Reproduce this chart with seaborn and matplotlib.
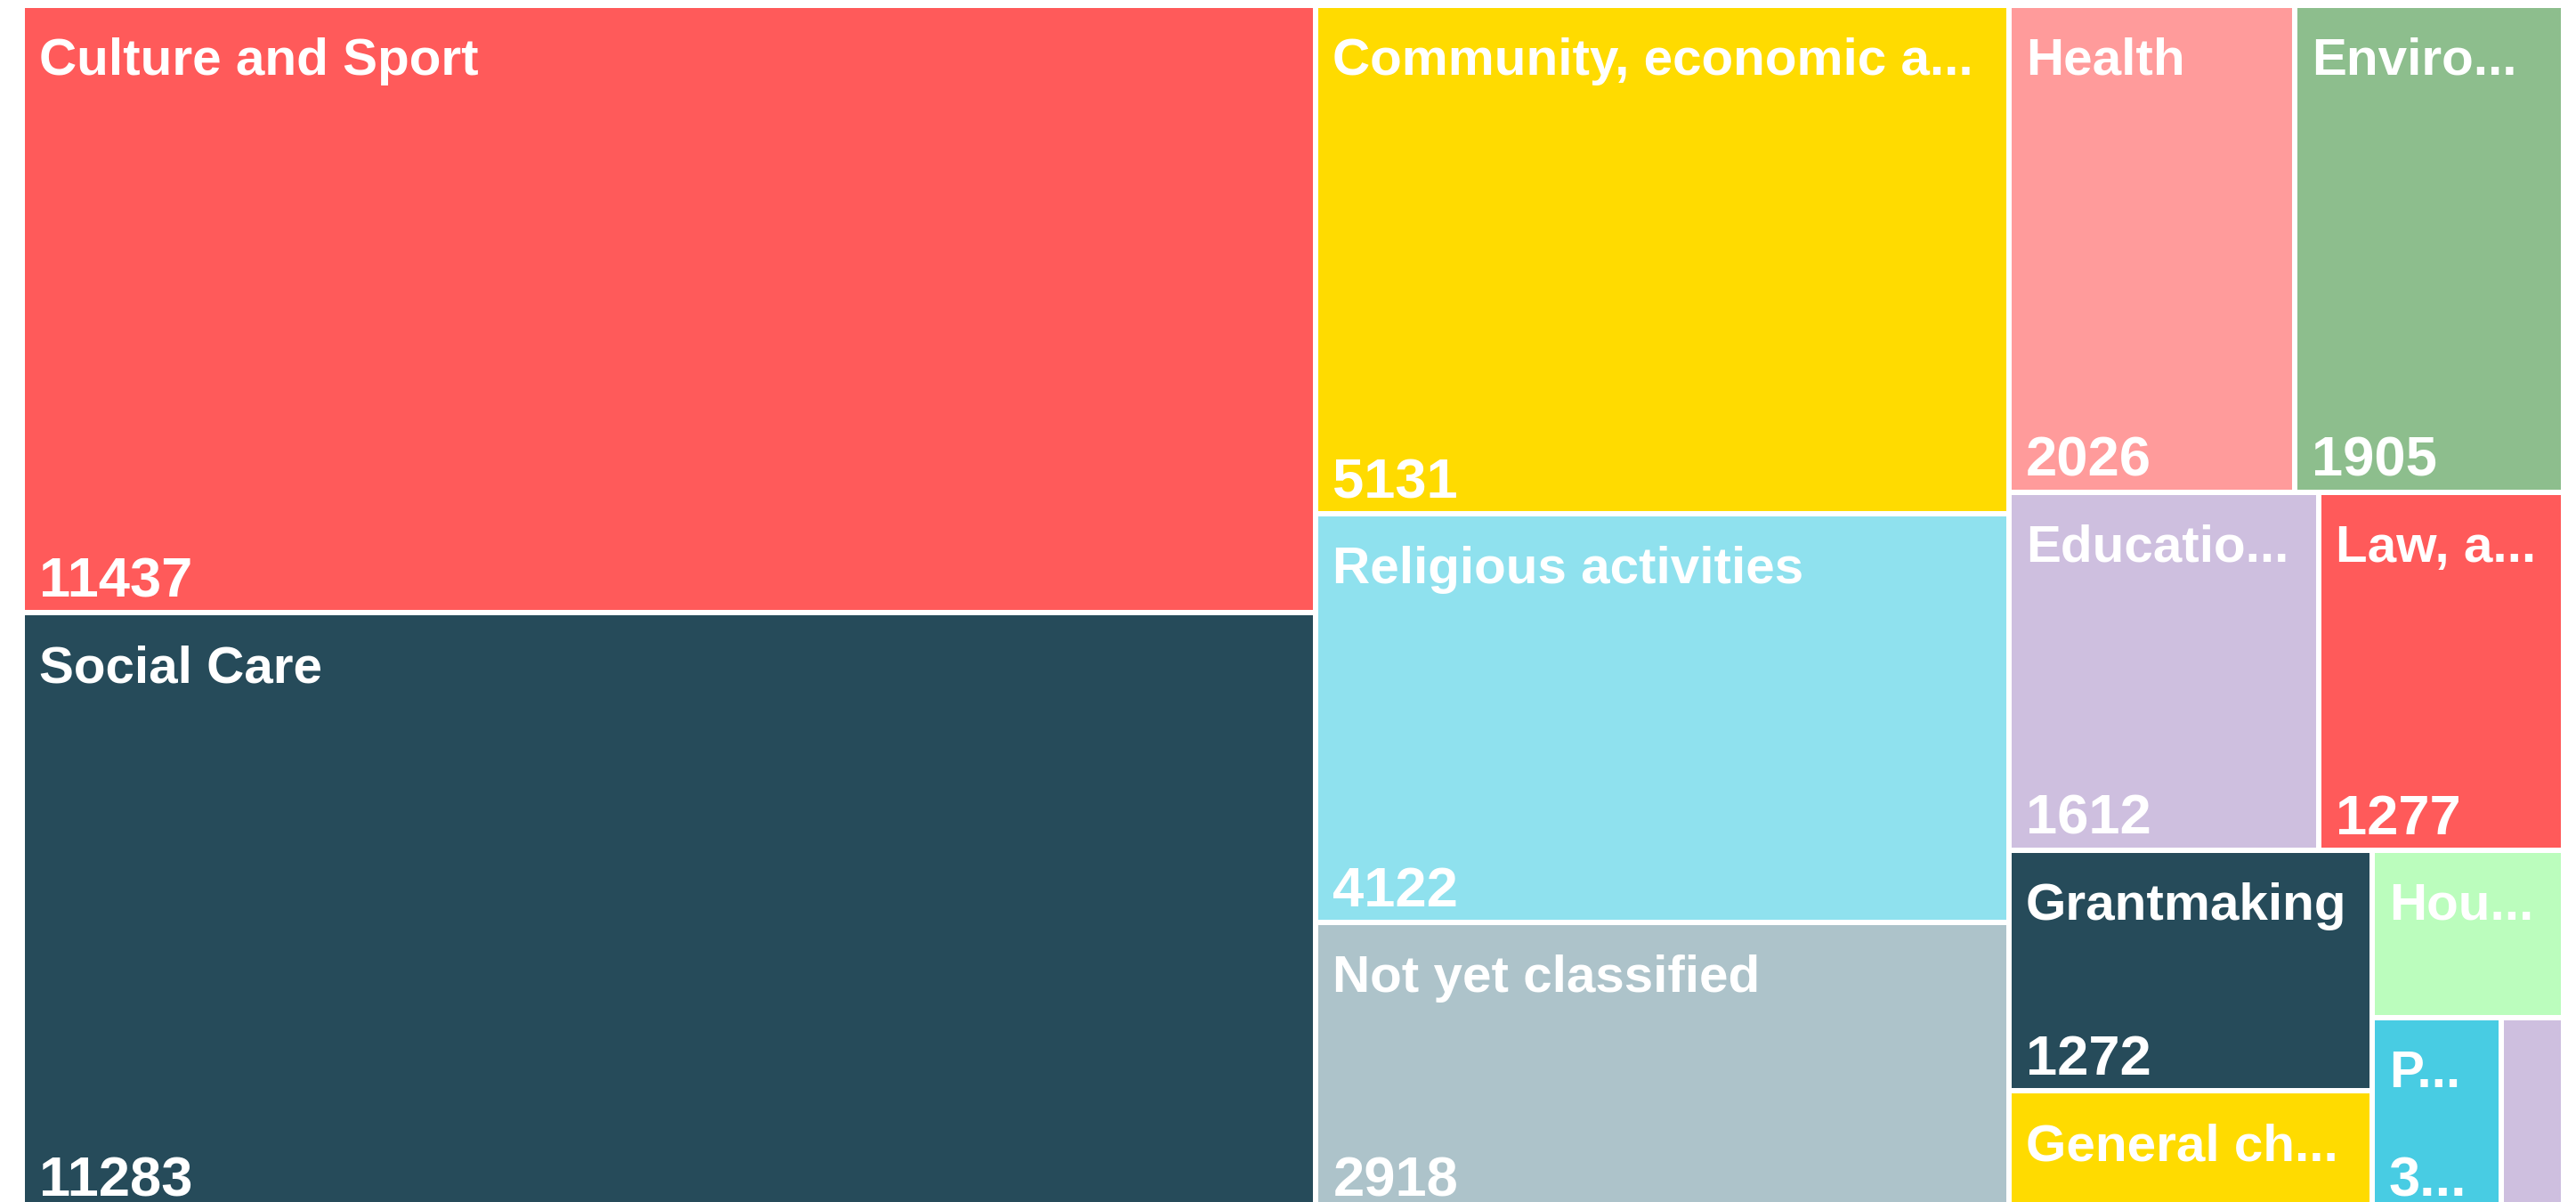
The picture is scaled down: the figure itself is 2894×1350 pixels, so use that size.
import matplotlib
matplotlib.use("Agg")
import matplotlib.pyplot as plt
from matplotlib.patches import Rectangle
import seaborn as sns

# charities per classification
categories = [
    "Culture and Sport",
    "Social Care",
    "Community, economic and social development",
    "Religious activities",
    "Not yet classified",
    "Health",
    "Environment",
    "Education and research",
    "Law, advocacy and politics",
    "Grantmaking",
    "General charitable purposes",
    "Housing",
    "Parent organisations",
    "International",
]
counts = [11437, 11283, 5131, 4122, 2918, 2026, 1905, 1612, 1277, 1272, 639, 466, 365, 176]
tile_colors = [
    "#FF5A5A", "#264B5A", "#FFDB00", "#8FE1EE", "#ADC3CA", "#FF9B9B", "#8DBE8D",
    "#CEBFDF", "#FF5A5A", "#264B5A", "#FFDB00", "#BBFDBD", "#48CCE3", "#CEBFDF",
]

W, H = 2894, 1350
PHI = (1 + 5 ** 0.5) / 2


def squarify(values, x0, y0, x1, y1, ratio=PHI):
    # same squarify as d3 / plotly (golden ratio target)
    rects = []
    total = float(sum(values))
    n = len(values)
    i0 = 0
    while i0 < n:
        dx, dy = x1 - x0, y1 - y0
        i1 = i0 + 1
        s = float(values[i0])
        vmin = vmax = s
        alpha = max(dy / dx, dx / dy) / (total * ratio)
        beta = s * s * alpha
        best = max(vmax / beta, beta / vmin)
        while i1 < n:
            v = values[i1]
            s2 = s + v
            lo, hi = min(vmin, v), max(vmax, v)
            beta = s2 * s2 * alpha
            r = max(hi / beta, beta / lo)
            if r > best:
                break
            s, vmin, vmax, best = s2, lo, hi, r
            i1 += 1
        row = values[i0:i1]
        if dx < dy:
            h = dy * s / total
            xx = x0
            for v in row:
                w = dx * v / s
                rects.append((xx, y0, w, h))
                xx += w
            y0 += h
        else:
            w = dx * s / total
            yy = y0
            for v in row:
                h = dy * v / s
                rects.append((x0, yy, w, h))
                yy += h
            x0 += w
        total -= s
        i0 = i1
    return rects


sns.set_theme(style="white")
plt.rcParams['font.family'] = ['Liberation Sans', 'DejaVu Sans']

fig = plt.figure(figsize=(W / 100, H / 100), dpi=100)
ax = fig.add_axes([0, 0, 1, 1])
ax.set_xlim(0, W)
ax.set_ylim(H, 0)
ax.axis("off")

# plot area runs a little past the bottom edge, like the original
rects = squarify(counts, 25, 6, 2880, 1361)

fig.canvas.draw()
renderer = fig.canvas.get_renderer()
FS_LABEL = 42
FS_VALUE = 45.5
PAD = 19
MARGIN = 44


def text_w(s, fs):
    t = ax.text(0, 0, s, fontsize=fs, fontweight="bold")
    w = t.get_window_extent(renderer).width
    t.remove()
    return w


def fit(s, maxw, fs):
    if text_w(s, fs) <= maxw:
        return s
    for k in range(len(s) - 1, 0, -1):
        cand = s[:k] + "..."
        if text_w(cand, fs) <= maxw:
            return cand
    return ""


for (x, y, w, h), name, val, col in zip(rects, categories, counts, tile_colors):
    ax.add_patch(Rectangle((x, y), w, h, facecolor=col, edgecolor="white", linewidth=4.32))
    avail = w - MARGIN
    lab = fit(name, avail, FS_LABEL)
    if lab:
        ax.text(x + PAD, y + 78, lab, fontsize=FS_LABEL, fontweight="bold",
                color="white", va="baseline")
    if h > 200:
        num = fit(str(val), avail, FS_VALUE)
        if num:
            ax.text(x + PAD, y + h - 18, num, fontsize=FS_VALUE, fontweight="bold",
                    color="white", va="baseline")

fig.savefig("out.png", dpi=100, facecolor="white")
